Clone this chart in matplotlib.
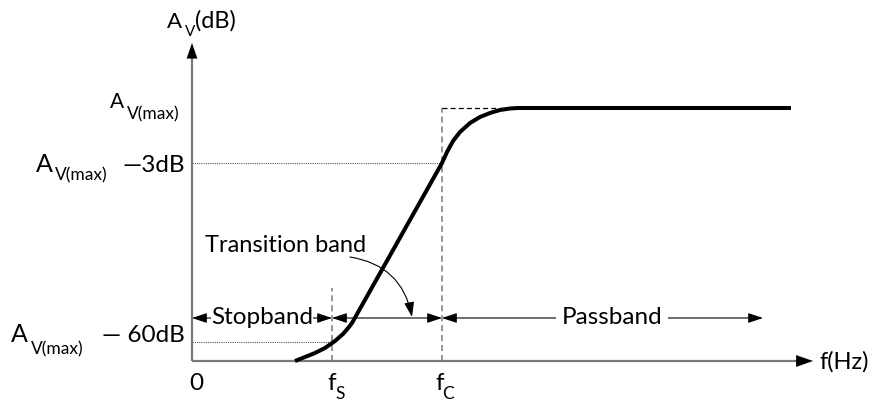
import matplotlib

matplotlib.use("Agg")
import matplotlib.pyplot as plt  # noqa: E402

# schematic high-pass response, units are arbitrary (roughly pixels from origin)
freq = [103, 113, 123, 133, 143, 151, 157, 160, 250, 255, 261, 268, 278,
        288, 298, 308, 318, 326, 599]
gain = [0, 4, 8, 13, 20, 27, 34, 38, 198, 209, 220, 229, 238,
        244, 248, 251, 252.5, 253, 253]

f_s = 140
f_c = 250
gain_max = 253
gain_3db = 198
gain_60db = 19
band_y = 43
pass_end = 571
x_end = 621
y_end = 318

plt.rcParams["font.family"] = ["Lato", "DejaVu Sans"]

fig = plt.figure(figsize=(8.74, 4.01), dpi=100)
ax = fig.add_axes([0, 0, 1, 1])
ax.set_xlim(-192, 682)
ax.set_ylim(-40, 361)
ax.axis("off")

axis_col = "#7a7a7a"
# axes with arrow heads
ax.plot([0, 0], [0, y_end - 12], color=axis_col, lw=1.6, solid_capstyle="butt")
ax.plot([0, x_end - 14], [0, 0], color=axis_col, lw=1.6, solid_capstyle="butt")
ax.annotate("", xy=(0, y_end), xytext=(0, y_end - 16),
            arrowprops=dict(arrowstyle="-|>,head_length=1.1,head_width=0.38",
                            color="black", lw=0.1, shrinkA=0, shrinkB=0))
ax.annotate("", xy=(x_end, 0), xytext=(x_end - 18, 0),
            arrowprops=dict(arrowstyle="-|>,head_length=1.2,head_width=0.42",
                            color="black", lw=0.1, shrinkA=0, shrinkB=0))

# guide lines
ax.plot([f_c, f_c], [0, gain_max], color=axis_col, lw=1.1, ls=(0, (4, 2.5)))
ax.plot([f_s, f_s], [0, 73], color=axis_col, lw=1.1, ls=(0, (4, 2.5)))
ax.plot([f_c, freq[-3]], [gain_max, gain_max], color="black", lw=0.9,
        ls=(0, (4, 2.5)))
ax.plot([0, f_c], [gain_3db, gain_3db], color="#555555", lw=0.8,
        ls=(0, (1, 1)))
ax.plot([0, f_s], [gain_60db, gain_60db], color="#555555", lw=0.8,
        ls=(0, (1, 1)))

# response curve
ax.plot(freq, gain, color="black", lw=2.9, solid_capstyle="butt",
        solid_joinstyle="round")

# band arrows
dbl = dict(arrowstyle="<|-|>,head_length=0.9,head_width=0.3", color="black",
           lw=0.8, shrinkA=0, shrinkB=0)
for x0, x1 in [(0, f_s), (f_s, f_c), (f_c, pass_end)]:
    ax.annotate("", xy=(x1, band_y), xytext=(x0, band_y), arrowprops=dbl)

band_fs = 17.5
ax.text(f_s / 2, band_y, "Stopband", ha="center", va="center",
        fontsize=band_fs,
        bbox=dict(boxstyle="square,pad=0.02", fc="white", ec="none"))
ax.text(420, band_y, "Passband", ha="center", va="center", fontsize=band_fs,
        bbox=dict(boxstyle="square,pad=0.25", fc="white", ec="none"))
ax.text(13, 116, "Transition band", ha="left", va="center", fontsize=17)
ax.annotate("", xy=(220, band_y + 1), xytext=(158, 104),
            arrowprops=dict(arrowstyle="-|>,head_length=0.9,head_width=0.3",
                            color="black", lw=0.8, shrinkA=0, shrinkB=0,
                            connectionstyle="arc3,rad=-0.35"))


def put(x, y, s, size, **kw):
    kw.setdefault("ha", "left")
    kw.setdefault("va", "baseline")
    ax.text(x, y, s, fontsize=size, **kw)


big = 17.5
sub = 12.5

# y-axis title and x-axis title
put(-25, 333, "A", 16)
put(-7, 325, "V", 11)
put(3, 333, "(dB)", 17)
put(628, -1, "f(Hz)", 17, va="center")

# x ticks
put(4, -29, "0", big, ha="center")
put(f_s - 5, -29, "f", big)
put(f_s + 3, -38, "S", sub)
put(f_c - 7, -29, "f", big)
put(f_c, -38, "C", sub)

# y ticks
put(-82, gain_max, "A", 15)
put(-65, gain_max - 11, "V(max)", sub)

put(-156, gain_3db - 9, "A", 18)
put(-137, gain_3db - 17, "V(max)", sub)
put(-7, gain_3db - 9, "—3dB", big, ha="right")

put(-181, gain_60db, "A", 18)
put(-161, gain_60db - 12, "V(max)", sub)
put(-7, gain_60db, "— 60dB", big, ha="right")

fig.savefig("out.png", dpi=100, facecolor="white")
